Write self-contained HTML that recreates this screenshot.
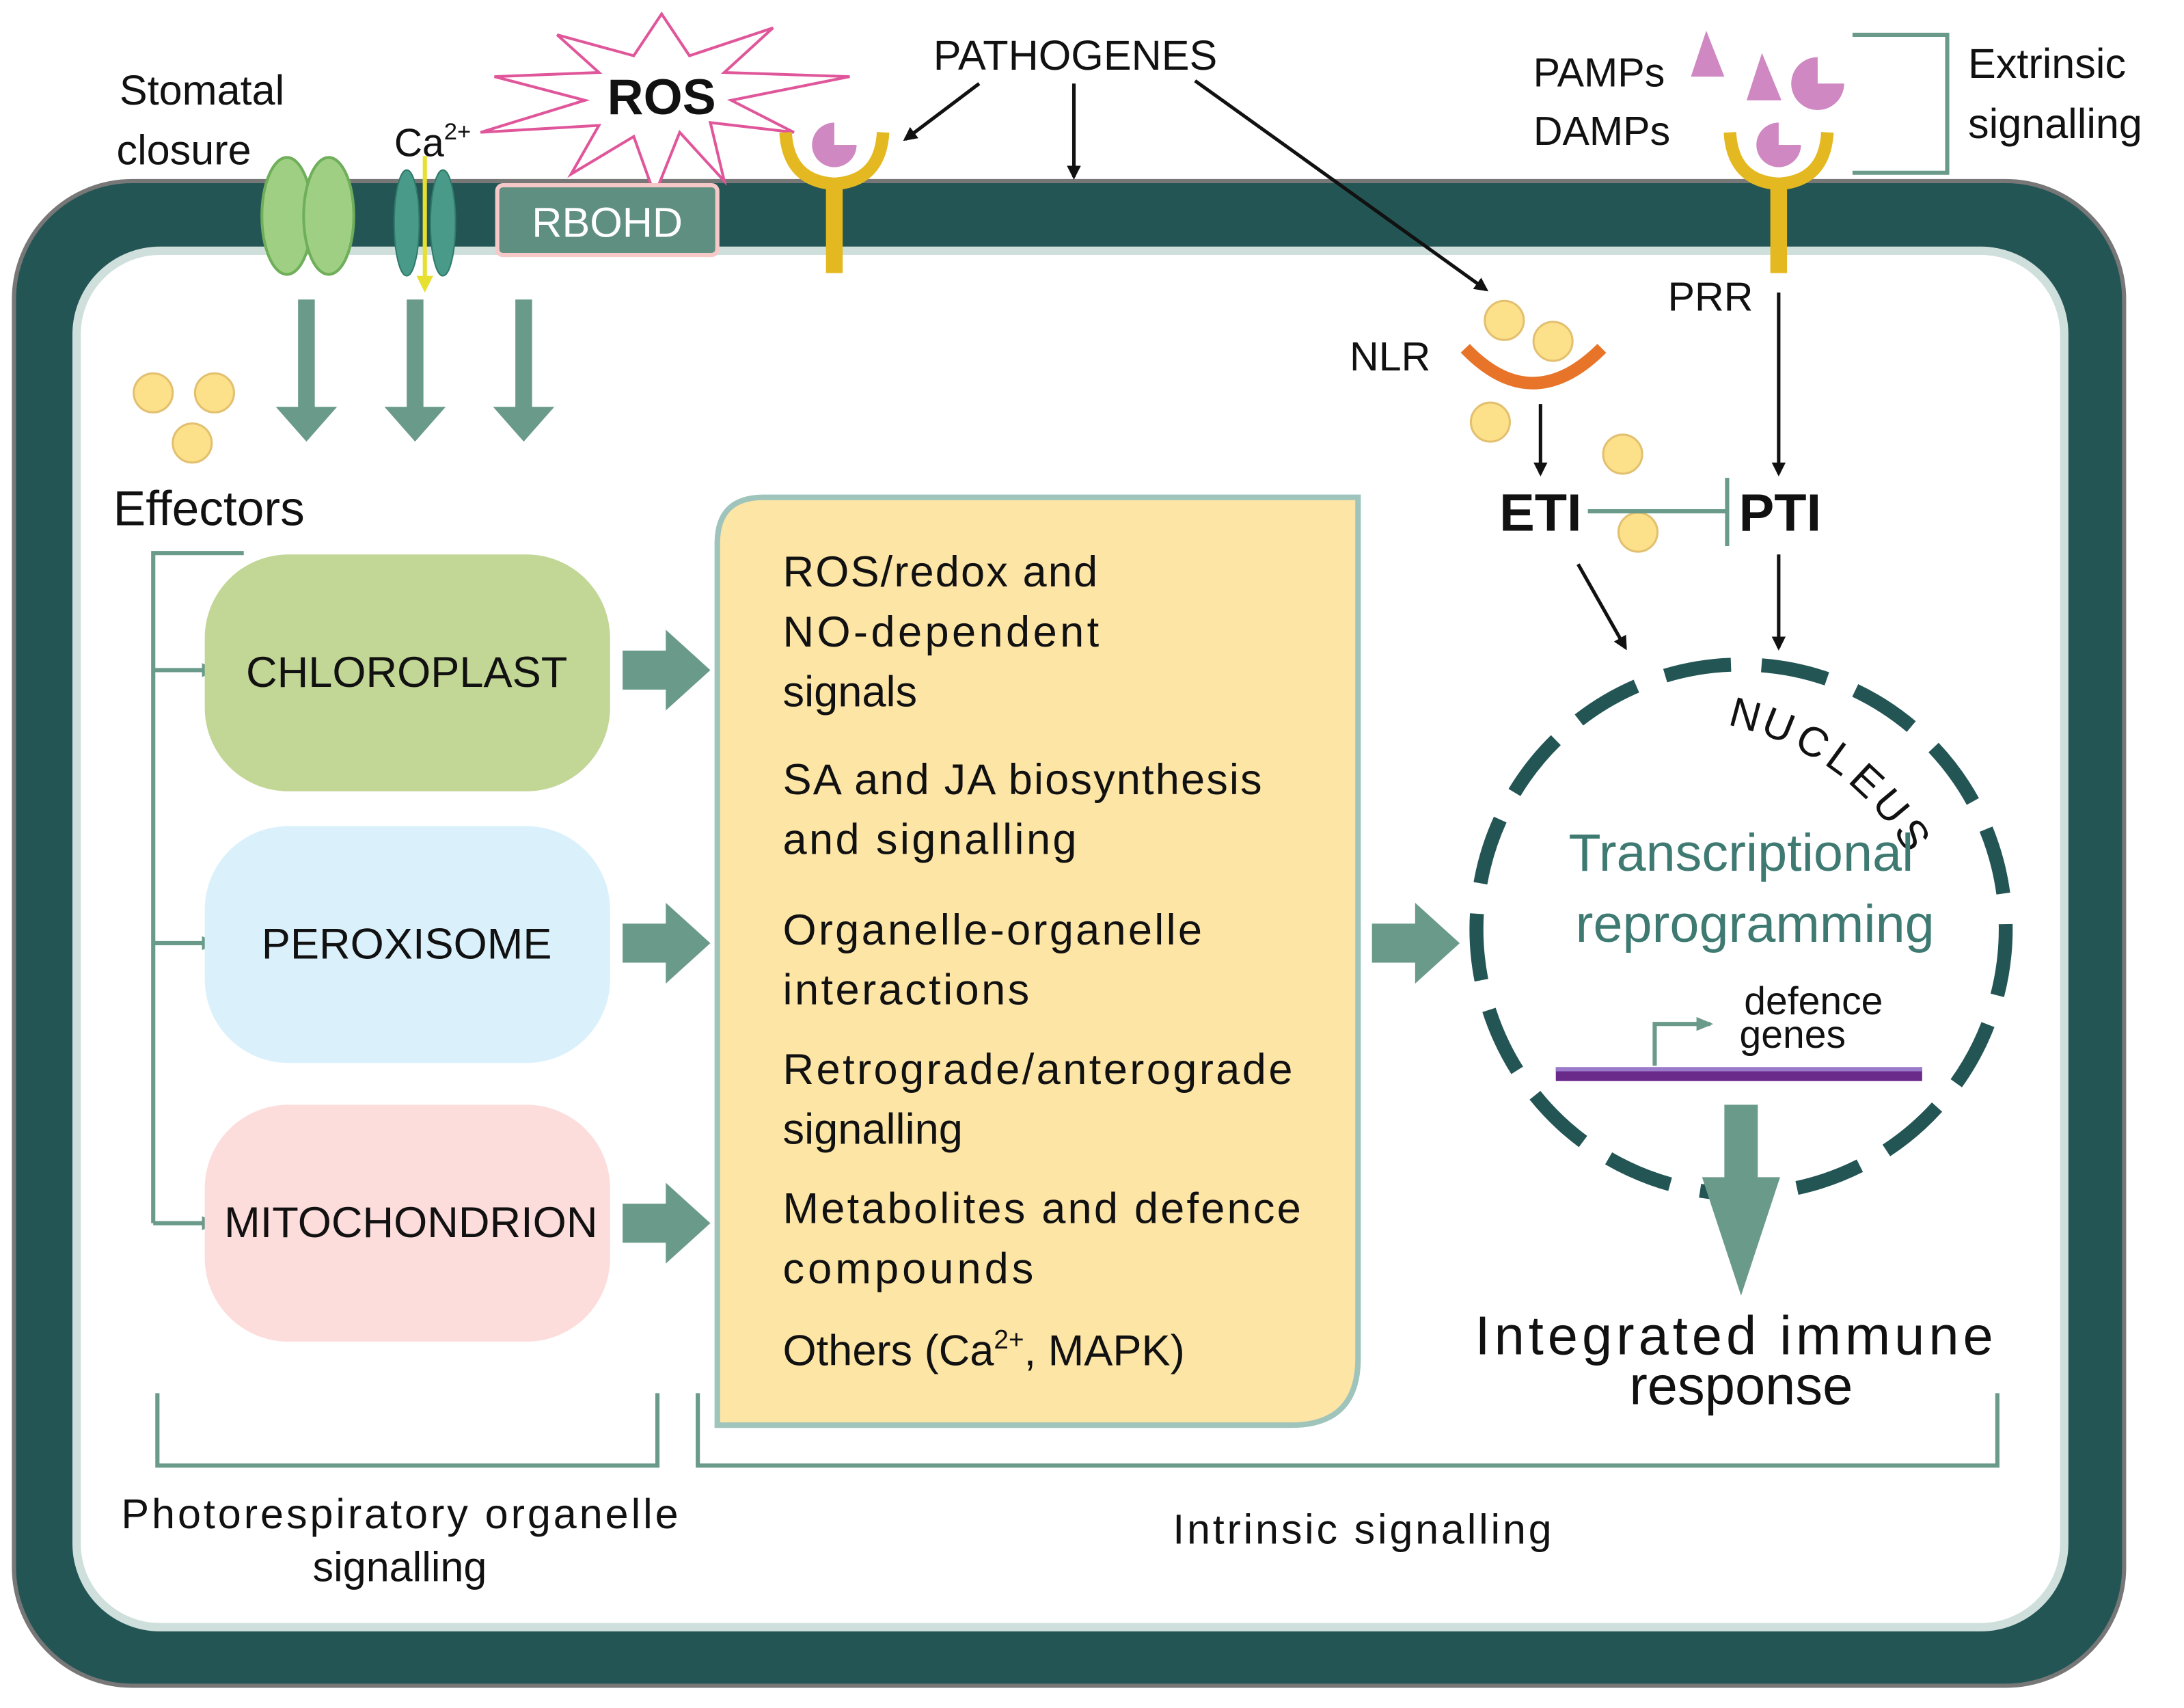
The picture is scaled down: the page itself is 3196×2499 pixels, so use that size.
<!DOCTYPE html>
<html><head><meta charset="utf-8"><style>
html,body{margin:0;padding:0;background:#fff}
svg{display:block}
text{font-family:"Liberation Sans","DejaVu Sans",sans-serif;fill:#111}
</style></head><body>
<svg width="3196" height="2499" viewBox="0 0 1568 1226" preserveAspectRatio="none" xmlns="http://www.w3.org/2000/svg">
<defs>
<marker id="ah" markerWidth="10" markerHeight="10" refX="8" refY="5" orient="auto" markerUnits="userSpaceOnUse"><path d="M0,0 L10,5 L0,10 z" fill="#111"/></marker>
<marker id="ta" markerWidth="12" markerHeight="10" refX="10" refY="5" orient="auto" markerUnits="userSpaceOnUse"><path d="M0,0 L12,5 L0,10 z" fill="#6a9a8a"/></marker>
</defs>
<rect x="0" y="0" width="1568" height="1226" fill="#fff"/>
<rect x="10" y="130" width="1515" height="1080" rx="85" fill="#245555" stroke="#777" stroke-width="3"/>
<rect x="55" y="180" width="1427" height="988" rx="60" fill="#fff" stroke="#cfe0dc" stroke-width="6"/>

<polygon points="475,10 495,40 555,20 520,52 610,55 525,72 570,95 510,88 520,130 488,95 470,140 455,98 410,125 430,90 345,95 420,72 355,55 430,52 400,25 455,40" fill="#fff" stroke="#e0569a" stroke-width="2"/>
<text x="475" y="82" font-size="36" font-weight="bold" text-anchor="middle">ROS</text>

<ellipse cx="206" cy="155" rx="18" ry="42" fill="#9fcf82" stroke="#6fae5a" stroke-width="2"/>
<ellipse cx="236" cy="155" rx="18" ry="42" fill="#9fcf82" stroke="#6fae5a" stroke-width="2"/>
<text x="145" y="75" font-size="30" text-anchor="middle">Stomatal</text>
<text x="132" y="118" font-size="30" text-anchor="middle">closure</text>

<ellipse cx="292" cy="160" rx="9" ry="38" fill="#4a9a8a" stroke="#2f7a6a"/>
<ellipse cx="318" cy="160" rx="9" ry="38" fill="#4a9a8a" stroke="#2f7a6a"/>
<line x1="305" y1="112" x2="305" y2="200" stroke="#e8e030" stroke-width="3"/>
<path d="M299,198 L311,198 L305,210 z" fill="#e8e030"/>
<text x="283" y="112" font-size="28">Ca<tspan font-size="17" dy="-12">2+</tspan></text>

<rect x="357" y="133" width="158" height="50" rx="4" fill="#5f8f80" stroke="#f6c8c8" stroke-width="3"/>
<text x="436" y="170" font-size="30" text-anchor="middle" style="fill:#fff">RBOHD</text>

<rect x="593" y="130" width="12" height="66" fill="#e3b820"/>
<path d="M564,95 Q566,130 599,132 Q632,130 634,95" fill="none" stroke="#e3b820" stroke-width="9"/>
<path d="M599,104 m-16,0 a16,16 0 1,0 32,0 l-16,0 l0,-16 a16,16 0 0,0 -16,16z" fill="#cf88c2"/>

<rect x="1271" y="130" width="12" height="66" fill="#e3b820"/>
<path d="M1242,95 Q1244,130 1277,132 Q1310,130 1312,95" fill="none" stroke="#e3b820" stroke-width="9"/>
<path d="M1277,104 m-16,0 a16,16 0 1,0 32,0 l-16,0 l0,-16 a16,16 0 0,0 -16,16z" fill="#cf88c2"/>
<polygon points="1225,22 1214,55 1238,55" fill="#cf88c2"/>
<polygon points="1265,38 1254,72 1279,72" fill="#cf88c2"/>
<path d="M1305,60 m-19,0 a19,19 0 1,0 38,0 l-19,0 l0,-19 a19,19 0 0,0 -19,19z" fill="#cf88c2"/>
<text x="1148" y="62" font-size="29" text-anchor="middle">PAMPs</text>
<text x="1150" y="104" font-size="29" text-anchor="middle">DAMPs</text>
<path d="M1330,25 L1398,25 L1398,124 L1330,124" fill="none" stroke="#6a9a8a" stroke-width="3"/>
<text x="1413" y="56" font-size="30">Extrinsic</text>
<text x="1413" y="99" font-size="30">signalling</text>

<text x="772" y="50" font-size="30" text-anchor="middle">PATHOGENES</text>
<line x1="703" y1="60" x2="650" y2="100" stroke="#111" stroke-width="2.5" marker-end="url(#ah)"/>
<line x1="771" y1="60" x2="771" y2="127" stroke="#111" stroke-width="2.5" marker-end="url(#ah)"/>
<line x1="858" y1="58" x2="1067" y2="208" stroke="#111" stroke-width="2.5" marker-end="url(#ah)"/>

<path d="M1052,250 Q1100,300 1150,250" fill="none" stroke="#e8742a" stroke-width="9"/>
<g fill="#fde08a" stroke="#e2c070" stroke-width="1.5">
<circle cx="1080" cy="230" r="14"/><circle cx="1115" cy="245" r="14"/><circle cx="1070" cy="303" r="14"/>
<circle cx="1165" cy="326" r="14"/><circle cx="1176" cy="382" r="14"/>
<circle cx="110" cy="282" r="14"/><circle cx="154" cy="282" r="14"/><circle cx="138" cy="318" r="14"/>
</g>
<text x="998" y="266" font-size="29" text-anchor="middle">NLR</text>
<text x="1228" y="223" font-size="29" text-anchor="middle">PRR</text>
<line x1="1106" y1="290" x2="1106" y2="340" stroke="#111" stroke-width="2.5" marker-end="url(#ah)"/>
<line x1="1277" y1="210" x2="1277" y2="340" stroke="#111" stroke-width="2.5" marker-end="url(#ah)"/>
<text x="1106" y="381" font-size="38" font-weight="bold" text-anchor="middle">ETI</text>
<text x="1278" y="381" font-size="38" font-weight="bold" text-anchor="middle">PTI</text>
<line x1="1140" y1="367" x2="1240" y2="367" stroke="#6a9a8a" stroke-width="3"/>
<line x1="1240" y1="343" x2="1240" y2="392" stroke="#6a9a8a" stroke-width="3"/>
<line x1="1133" y1="405" x2="1167" y2="465" stroke="#111" stroke-width="2.5" marker-end="url(#ah)"/>
<line x1="1277" y1="398" x2="1277" y2="465" stroke="#111" stroke-width="2.5" marker-end="url(#ah)"/>

<g fill="#6a9a8a">
<rect x="214" y="215" width="12" height="80"/><path d="M198,292 L242,292 L220,317 z"/>
<rect x="292" y="215" width="12" height="80"/><path d="M276,292 L320,292 L298,317 z"/>
<rect x="370" y="215" width="12" height="80"/><path d="M354,292 L398,292 L376,317 z"/>
</g>
<text x="150" y="377" font-size="35" text-anchor="middle">Effectors</text>

<path d="M175,397 L110,397 L110,878" fill="none" stroke="#6a9a8a" stroke-width="3"/>
<line x1="110" y1="481" x2="155" y2="481" stroke="#6a9a8a" stroke-width="3" marker-end="url(#ta)"/>
<line x1="110" y1="677" x2="155" y2="677" stroke="#6a9a8a" stroke-width="3" marker-end="url(#ta)"/>
<line x1="110" y1="878" x2="155" y2="878" stroke="#6a9a8a" stroke-width="3" marker-end="url(#ta)"/>

<rect x="147" y="398" width="291" height="170" rx="60" fill="#c2d695"/>
<text x="292" y="493" font-size="31" text-anchor="middle">CHLOROPLAST</text>
<rect x="147" y="593" width="291" height="170" rx="60" fill="#daf1fc"/>
<text x="292" y="688" font-size="31" text-anchor="middle">PEROXISOME</text>
<rect x="147" y="793" width="291" height="170" rx="60" fill="#fddcdc"/>
<text x="295" y="888" font-size="31" text-anchor="middle">MITOCHONDRION</text>

<g fill="#6a9a8a">
<path d="M447,467 L478,467 L478,452 L510,481 L478,510 L478,495 L447,495 z"/>
<path d="M447,663 L478,663 L478,648 L510,677 L478,706 L478,691 L447,691 z"/>
<path d="M447,864 L478,864 L478,849 L510,878 L478,907 L478,892 L447,892 z"/>
<path d="M985,663 L1016,663 L1016,648 L1048,677 L1016,706 L1016,691 L985,691 z"/>
</g>

<path d="M548,357 L975,357 L975,975 Q975,1023 927,1023 L515,1023 L515,390 Q515,357 548,357 z" fill="#fde5a6" stroke="#9fc4bc" stroke-width="4"/>
<g font-size="31">
<text x="562" y="421" textLength="226">ROS/redox and</text>
<text x="562" y="464" textLength="227">NO-dependent</text>
<text x="562" y="507">signals</text>
<text x="562" y="570" textLength="344">SA and JA biosynthesis</text>
<text x="562" y="613" textLength="211">and signalling</text>
<text x="562" y="678" textLength="301">Organelle-organelle</text>
<text x="562" y="721" textLength="177">interactions</text>
<text x="562" y="778" textLength="366">Retrograde/anterograde</text>
<text x="562" y="821">signalling</text>
<text x="562" y="878" textLength="372">Metabolites and defence</text>
<text x="562" y="921" textLength="180">compounds</text>
<text x="562" y="980">Others (Ca<tspan font-size="19" dy="-12">2+</tspan><tspan dy="12">, MAPK)</tspan></text>
</g>

<circle cx="1250" cy="667" r="190" fill="none" stroke="#245555" stroke-width="10" stroke-dasharray="48,22"/>
<g font-size="30" style="fill:#222">
<text transform="translate(1240,520) rotate(15)">N</text>
<text transform="translate(1263,526) rotate(22)">U</text>
<text transform="translate(1287,536) rotate(29)">C</text>
<text transform="translate(1309,548) rotate(36)">L</text>
<text transform="translate(1326,561) rotate(43)">E</text>
<text transform="translate(1343,577) rotate(50)">U</text>
<text transform="translate(1359,596) rotate(58)">S</text>
</g>
<text x="1250" y="625" font-size="38" text-anchor="middle" style="fill:#3e7a72">Transcriptional</text>
<text x="1260" y="676" font-size="38" text-anchor="middle" style="fill:#3e7a72">reprogramming</text>
<text x="1302" y="728" font-size="28" text-anchor="middle">defence</text>
<text x="1287" y="752" font-size="28" text-anchor="middle">genes</text>
<path d="M1188,765 L1188,735 L1228,735" fill="none" stroke="#6a9a8a" stroke-width="3" marker-end="url(#ta)"/>
<rect x="1117" y="766" width="263" height="10" fill="#6a2a8a"/>
<rect x="1117" y="766" width="263" height="3" fill="#9a7acb"/>
<path d="M1238,793 L1262,793 L1262,845 L1278,845 L1250,930 L1222,845 L1238,845 z" fill="#6a9a8a"/>
<text x="1245" y="972" font-size="39" text-anchor="middle" textLength="372">Integrated immune</text>
<text x="1250" y="1008" font-size="39" text-anchor="middle">response</text>

<path d="M113,1000 L113,1052 L472,1052 L472,1000" fill="none" stroke="#6a9a8a" stroke-width="3"/>
<path d="M501,1000 L501,1052 L1434,1052 L1434,1000" fill="none" stroke="#6a9a8a" stroke-width="3"/>
<text x="287" y="1097" font-size="30" text-anchor="middle" textLength="400">Photorespiratory organelle</text>
<text x="287" y="1135" font-size="30" text-anchor="middle">signalling</text>
<text x="978" y="1108" font-size="30" text-anchor="middle" textLength="272">Intrinsic signalling</text>
</svg>
</body></html>
